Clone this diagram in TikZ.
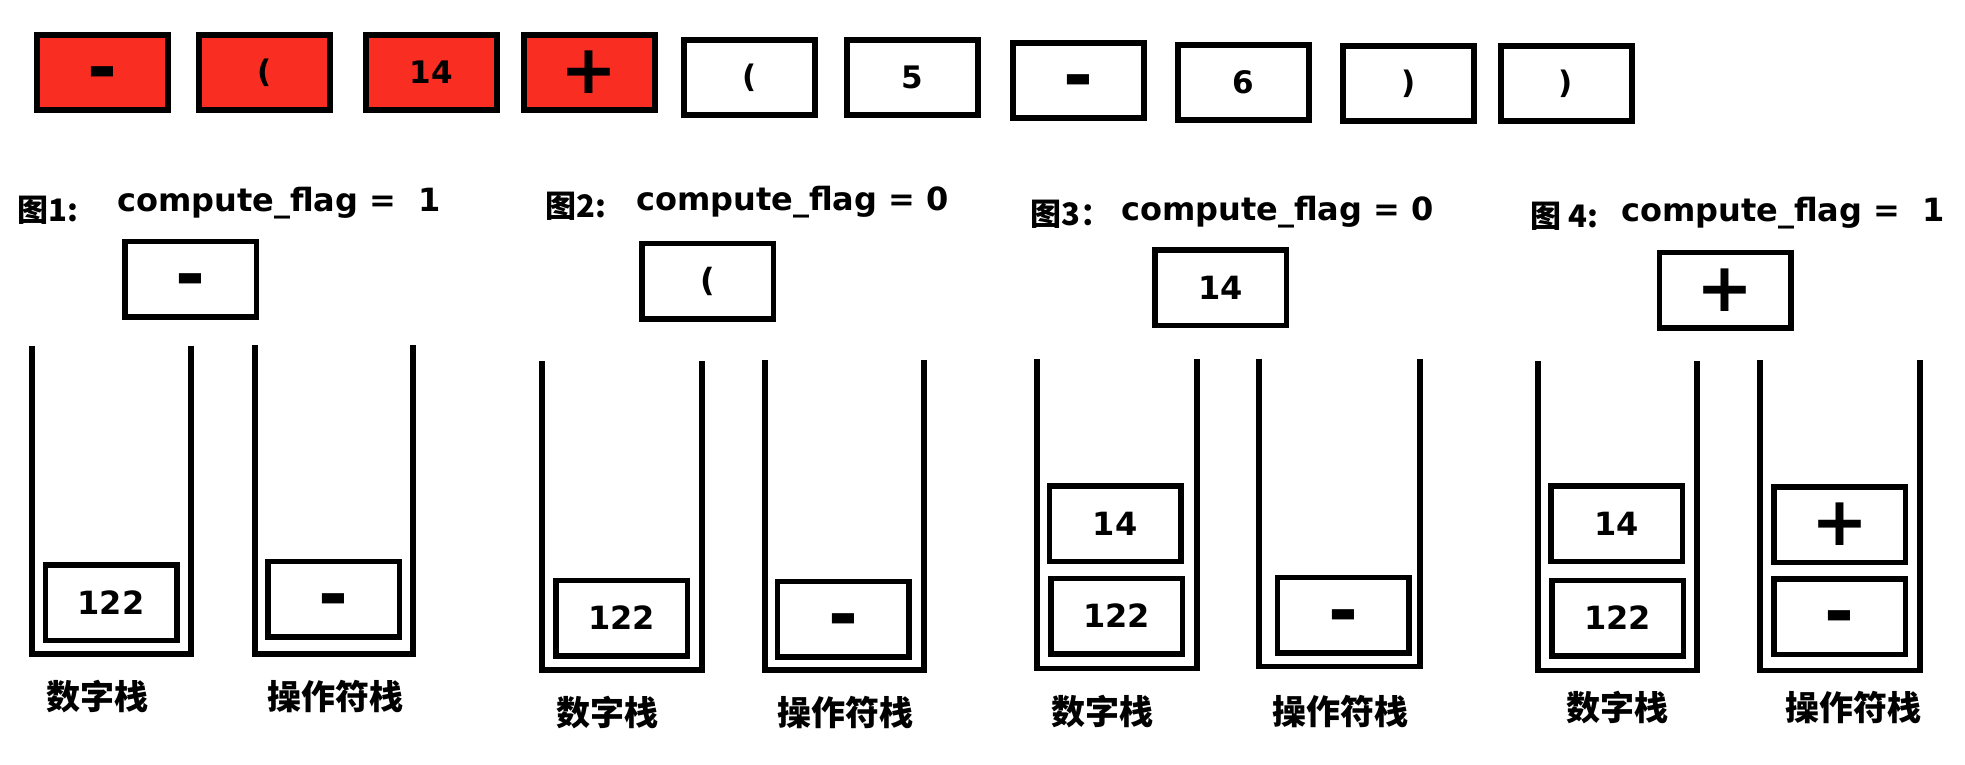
\documentclass[tikz,border=0pt]{standalone}
\usepackage{fontspec}
\setmainfont{DejaVu Sans}
\newfontfamily\cjk{Noto Sans CJK SC}
\definecolor{tokred}{RGB}{250,45,35}
\tikzset{
  tok/.style={draw, line width=6pt, minimum width=131pt, minimum height=75pt, inner sep=0pt, font=\bfseries\fontsize{31}{31}\selectfont},
  tokr/.style={tok, fill=tokred},
  cell/.style={draw, line width=5.5pt, minimum width=131.5pt, minimum height=75.5pt, inner sep=0pt, font=\bfseries\fontsize{32}{32}\selectfont},
  minus/.style={font=\bfseries\fontsize{72}{72}\selectfont, text height=40pt, text depth=0pt},
  plus/.style={font=\bfseries\fontsize{68}{68}\selectfont},
  stackline/.style={line width=5.7pt, line join=miter},
  lab/.style={font=\cjk\bfseries\fontsize{34}{34}\selectfont, inner sep=0pt},
  head/.style={font=\bfseries\fontsize{32}{32}\selectfont, inner sep=0pt, anchor=base west},
  fig/.style={font=\cjk\bfseries\fontsize{31}{31}\selectfont, inner sep=0pt, anchor=base west}
}
\begin{document}
\begin{tikzpicture}[x=1pt,y=-1pt]
\useasboundingbox[fill=white] (0,0) rectangle (1965,765);
% top row tokens
\node[tokr, minus] (t1) at (102,72.5) {-};
\node[tokr] (t2) at (264.5,72.5) {(};
\node[tokr] (t3) at (431,72.5) {14};
\node[tokr, plus] (t4) at (589,72.5) {+};
\node[tok] (t5) at (749.5,77.5) {(};
\node[tok] (t6) at (912,77.5) {5};
\node[tok, minus] (t7) at (1078,80.5) {-};
\node[tok] (t8) at (1243,82.5) {6};
\node[tok] (t9) at (1408.5,83.5) {)};
\node[tok] (t10) at (1566,83.5) {)};

% figure 1
\node[fig] (f1) at (17,221) {图1:};
\node[head] (h1) at (117,211.5) {compute\_flag =\ \ 1};
\node[cell, minus] (a0) at (190.5,279) {-};
\draw[stackline] (32,346) -- (32,654) -- (191,654) -- (191,346);
\draw[stackline] (255,345) -- (255,654) -- (413,654) -- (413,345);
\node[cell] (a1) at (111,602.5) {122};
\node[cell, minus] (a2) at (333.5,599) {-};
\node[lab] (an) at (97,697) {数字栈};
\node[lab] (ao) at (335,697) {操作符栈};

% figure 2
\node[fig] (f2) at (545,217.5) {图2:};
\node[head] (h2) at (636,210) {compute\_flag = 0};
\node[cell] (b0) at (707.5,281) {(};
\draw[stackline] (542,361) -- (542,670) -- (702,670) -- (702,361);
\draw[stackline] (765,360) -- (765,670) -- (924,670) -- (924,360);
\node[cell] (b1) at (621.5,618) {122};
\node[cell, minus] (b2) at (843,619) {-};
\node[lab] (bn) at (607,713) {数字栈};
\node[lab] (bo) at (845,713) {操作符栈};

% figure 3
\node[fig] (f3) at (1030,225) {图3：};
\node[head] (h3) at (1121,220.5) {compute\_flag = 0};
\node[cell] (c0) at (1220.5,287.5) {14};
\draw[stackline] (1037,359) -- (1037,668.5) -- (1197,668.5) -- (1197,359);
\draw[stackline] (1259,358.5) -- (1259,666.5) -- (1420,666.5) -- (1420,358.5);
\node[cell] (c1) at (1115,523.5) {14};
\node[cell] (c2) at (1116.5,616) {122};
\node[cell, minus] (c3) at (1343,615) {-};
\node[lab] (cn) at (1102,711.5) {数字栈};
\node[lab] (co) at (1340,711.5) {操作符栈};

% figure 4
\node[fig] (f4) at (1530,227) {图 4:};
\node[head] (h4) at (1621,221.5) {compute\_flag =\ \ 1};
\node[cell, plus] (d0) at (1725,290) {+};
\draw[stackline] (1538,361) -- (1538,670.5) -- (1697,670.5) -- (1697,361);
\draw[stackline] (1760,360) -- (1760,670.5) -- (1920,670.5) -- (1920,360);
\node[cell] (d1) at (1616.5,523.5) {14};
\node[cell] (d2) at (1617.5,618) {122};
\node[cell, plus] (d3) at (1839.5,524.5) {+};
\node[cell, minus] (d4) at (1839.5,616.5) {-};
\node[lab] (dn) at (1617,708) {数字栈};
\node[lab] (do) at (1853,708) {操作符栈};
\end{tikzpicture}
\end{document}
